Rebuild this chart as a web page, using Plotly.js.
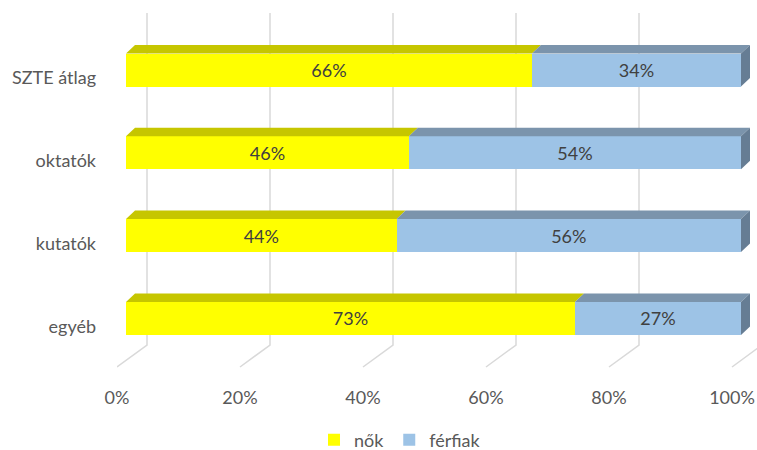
<!DOCTYPE html>
<html>
<head>
<meta charset="utf-8">
<script src="https://cdn.plot.ly/plotly-3.0.1.min.js"></script>
<style>html,body{margin:0;padding:0;background:#fff;}#chart{width:757px;height:450px;}</style>
</head>
<body>
<div id="chart"></div>
<script>
// ---- data ----
const categories = ['SZTE átlag', 'oktatók', 'kutatók', 'egyéb'];
const nok = [66, 46, 44, 73];
const ferfiak = [34, 54, 56, 27];
const seriesNames = ['nők', 'férfiak'];
const xTickVals = [0, 20, 40, 60, 80, 100];
const xTickText = ['0%', '20%', '40%', '60%', '80%', '100%'];

// ---- layout geometry (pixels) ----
const W = 757, H = 450;
const L = 117, R = 0, T = 13, B = 83;
const plotW = W - L - R, plotH = H - T - B;
const pxX = 615 / 100;            // px per percent
const xMax = plotW / pxX;         // axis extends past 100% for the 3D depth
const pxY = 82.8;                 // px per category step
const firstLabelPx = 78;          // category 0 centre on the floor-front plane (px from top)
const barShiftX = 9, barShiftY = 8; // bar front plane relative to floor-front plane
const depthX = 9, depthY = 8.5;   // bar top-face depth
const backX = 30, backY = 22;     // back wall relative to floor-front
const barPx = 33;
const barW = barPx / pxY;

// y ranges (reversed)
const yTopVal = (T - firstLabelPx) / pxY;
const yBotVal = (T + plotH - firstLabelPx) / pxY;
const y2TopVal = (T - (firstLabelPx - barShiftY)) / pxY;
const y2BotVal = (T + plotH - (firstLabelPx - barShiftY)) / pxY;
const x2Shift = barShiftX / pxX;

const yellow = '#FFFF00', yellowTop = '#C6C600';
const blue = '#9DC3E6', blueTop = '#7B94AC', blueSide = '#667D94';
const gridCol = '#D9D9D9';
const font = 'Lato, "Open Sans", sans-serif';
const fs = 18;

const traces = [
  {type: 'bar', orientation: 'h', name: seriesNames[0], x: nok, y: categories,
   xaxis: 'x2', yaxis: 'y2', marker: {color: yellow},
   text: nok.map(v => v + '%'), textposition: 'inside', insidetextanchor: 'middle',
   textfont: {color: '#404040', size: fs, family: font}, hoverinfo: 'skip'},
  {type: 'bar', orientation: 'h', name: seriesNames[1], x: ferfiak, y: categories,
   xaxis: 'x2', yaxis: 'y2', marker: {color: blue},
   text: ferfiak.map(v => v + '%'), textposition: 'inside', insidetextanchor: 'middle',
   textfont: {color: '#404040', size: fs, family: font}, hoverinfo: 'skip'}
];

const shapes = [];
// gridlines on back wall + floor
const gdx = backX / pxX;
const floorBackPaper = backY / plotH;
xTickVals.forEach(v => {
  shapes.push({type: 'path', xref: 'x', yref: 'paper', layer: 'below',
    path: `M ${v + gdx},1 L ${v + gdx},${floorBackPaper} L ${v},0`,
    line: {color: gridCol, width: 1.5}});
});
// 3D top faces and right side faces
const ddx = depthX / pxX, ddy = depthY / pxY;
categories.forEach((c, i) => {
  const yt = i - barW / 2, yb = i + barW / 2;
  const segs = [[0, nok[i], yellowTop], [nok[i], nok[i] + ferfiak[i], blueTop]];
  segs.forEach(([a, b, col]) => {
    shapes.push({type: 'path', xref: 'x2', yref: 'y2', layer: 'above',
      path: `M ${a},${yt} L ${b},${yt} L ${b + ddx},${yt - ddy} L ${a + ddx},${yt - ddy} Z`,
      fillcolor: col, line: {width: 0}});
  });
  const e = nok[i] + ferfiak[i];
  shapes.push({type: 'path', xref: 'x2', yref: 'y2', layer: 'above',
    path: `M ${e},${yt} L ${e + ddx},${yt - ddy} L ${e + ddx},${yb - ddy} L ${e},${yb} Z`,
    fillcolor: blueSide, line: {width: 0}});
});

const layout = {
  width: W, height: H,
  margin: {l: L, r: R, t: T, b: B, pad: 0, autoexpand: false},
  paper_bgcolor: '#fff', plot_bgcolor: 'rgba(0,0,0,0)',
  barmode: 'stack', bargap: 1 - barW,
  font: {family: font, color: '#595959', size: fs},
  xaxis: {range: [0, xMax], tickvals: xTickVals, ticktext: xTickText,
    showgrid: false, zeroline: false, showline: false, ticks: '',
    ticklabelstandoff: 18, tickfont: {size: fs, color: '#595959'}, fixedrange: true, automargin: false},
  yaxis: {type: 'category', categoryorder: 'array', categoryarray: categories,
    tickvals: categories, range: [yBotVal, yTopVal],
    showgrid: false, zeroline: false, showline: false, ticks: '',
    ticklabelstandoff: 20, tickfont: {size: fs, color: '#595959'}, fixedrange: true, automargin: false},
  xaxis2: {overlaying: 'x', range: [-x2Shift, xMax - x2Shift], visible: false, fixedrange: true},
  yaxis2: {overlaying: 'y', type: 'category', categoryorder: 'array', categoryarray: categories,
    range: [y2BotVal, y2TopVal], visible: false, fixedrange: true},
  showlegend: true,
  legend: {orientation: 'h', x: (400 - L) / plotW, xanchor: 'center',
    y: -(440 - T - plotH) / plotH, yanchor: 'middle', itemwidth: 30,
    font: {size: fs, color: '#595959'}, traceorder: 'normal'},
  shapes: shapes
};

Plotly.newPlot('chart', traces, layout, {staticPlot: true, displayModeBar: false});
</script>
</body>
</html>
